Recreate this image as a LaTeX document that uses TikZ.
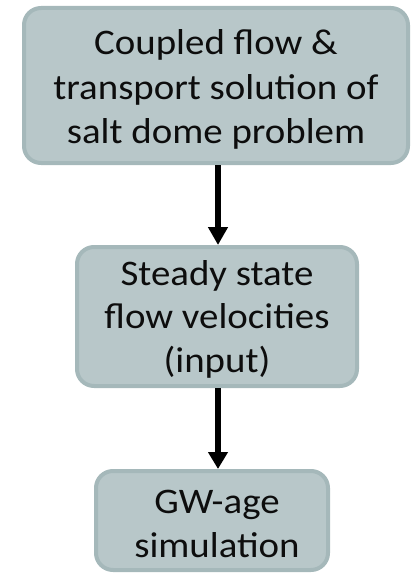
\documentclass[tikz,border=0pt]{standalone}
\usepackage{fontspec}
\setmainfont{Carlito}[FakeStretch=1.08]
\usetikzlibrary{arrows.meta}
\definecolor{boxfill}{HTML}{B8C7C9}
\definecolor{boxline}{HTML}{A5B8BA}
\definecolor{txtcol}{HTML}{0D0D0D}
\begin{document}
\begin{tikzpicture}[x=1pt,y=-1pt,
  box/.style={draw=boxline, fill=boxfill, line width=4pt, rounded corners=17pt, inner sep=0pt},
  lbl/.style={anchor=base, inner sep=0pt, text=txtcol, font=\fontsize{36}{43}\selectfont},
  arr/.style={line width=6pt, -{Triangle[length=18pt,width=19pt]}}]
\useasboundingbox (0,0) rectangle (411,575);
\node[box, minimum width=384pt, minimum height=155pt] (b1) at (216,85.5) {};
\node[box, minimum width=280pt, minimum height=139pt] (b2) at (217,316.5) {};
\node[box, minimum width=232pt, minimum height=99pt] (b3) at (212,520.5) {};
\node[lbl] (t1a) at (216,55) {Coupled flow \&};
\node[lbl] (t1b) at (216,99.5) {transport solution of};
\node[lbl] (t1c) at (216,143.5) {salt dome problem};
\node[lbl] (t2a) at (217,285) {Steady state};
\node[lbl] (t2b) at (217,328.5) {flow velocities};
\node[lbl] (t2c) at (217,372) {(input)};
\node[lbl] (t3a) at (217,513) {GW-age};
\node[lbl] (t3b) at (217,557) {simulation};
\draw[arr] ([xshift=2pt]b1.south) -- ([xshift=1pt]b2.north);
\draw[arr, -{Triangle[length=17pt,width=19pt]}] ([xshift=1pt]b2.south) -- ([xshift=6pt]b3.north);
\end{tikzpicture}
\end{document}
